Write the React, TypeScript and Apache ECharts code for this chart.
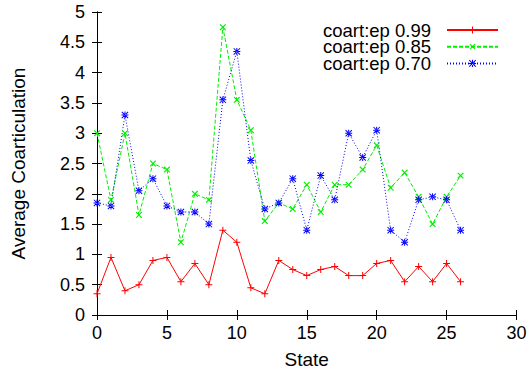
import React, { useEffect, useRef } from "react";
import * as echarts from "echarts";

const states = [0, 1, 2, 3, 4, 5, 6, 7, 8, 9, 10, 11, 12, 13, 14, 15, 16, 17, 18, 19, 20, 21, 22, 23, 24, 25, 26];
const ep099 = [0.35, 0.95, 0.4, 0.5, 0.9, 0.95, 0.55, 0.85, 0.5, 1.4, 1.2, 0.45, 0.35, 0.9, 0.75, 0.65, 0.75, 0.8, 0.65, 0.65, 0.85, 0.9, 0.55, 0.8, 0.55, 0.85, 0.55];
const ep085 = [3.0, 1.9, 3.0, 1.65, 2.5, 2.4, 1.2, 2.0, 1.9, 4.75, 3.55, 3.05, 1.55, 1.85, 1.75, 2.15, 1.7, 2.15, 2.15, 2.4, 2.8, 2.1, 2.35, 1.95, 1.5, 1.95, 2.3];
const ep070 = [1.85, 1.8, 3.3, 2.05, 2.25, 1.8, 1.7, 1.7, 1.5, 3.55, 4.35, 2.55, 1.75, 1.85, 2.25, 1.4, 2.3, 1.9, 3.0, 2.6, 3.05, 1.4, 1.2, 1.9, 1.95, 1.9, 1.4];
const seriesNames = ["coart:ep 0.99", "coart:ep 0.85", "coart:ep 0.70"];

const FONT = "Liberation Sans, Arial, sans-serif";
const PLUS = "path://M3,0H4V3H7V4H4V7H3V4H0V3H3Z";
const STAR = "path://M3,0H4V3H7V4H4V7H3V4H0V3H3Z M0,0.7L0.7,0L7,6.3L6.3,7Z M7,0.7L6.3,0L0,6.3L0.7,7Z";

export default function App() {
  const ref = useRef<HTMLDivElement>(null);
  useEffect(() => {
    if (!ref.current) return;
    const chart = echarts.init(ref.current, null, { renderer: "svg" });
    const pairs = (vals: number[]) => states.map((s, i) => [s, vals[i]]);
    const axisCommon = {
      axisLine: { show: true, lineStyle: { color: "#000", width: 1 } },
      axisTick: { show: true, inside: true, length: 5, lineStyle: { color: "#000" } },
      splitLine: { show: false },
    };
    chart.setOption({
      animation: false,
      backgroundColor: "#fff",
      textStyle: { fontFamily: FONT },
      grid: { left: 97, right: 13.5, top: 12, bottom: 59, containLabel: false },
      legend: {
        orient: "vertical",
        align: "right",
        right: 26,
        top: 15.5,
        itemWidth: 51,
        itemHeight: 9,
        itemGap: -2.3,
        textStyle: { fontFamily: FONT, fontSize: 18.5, lineHeight: 14, color: "#000", padding: [0, 11, 0, 0] },
        data: seriesNames,
      },
      xAxis: [
        {
          type: "value", min: 0, max: 30, interval: 5, position: "bottom",
          name: "State", nameLocation: "middle", nameGap: 35,
          nameTextStyle: { fontFamily: FONT, fontSize: 19, color: "#000" },
          axisLabel: { fontFamily: FONT, fontSize: 18, color: "#000", margin: 9 },
          ...axisCommon,
        },
        {
          type: "value", min: 0, max: 30, interval: 5, position: "top",
          axisLabel: { show: false }, ...axisCommon,
        },
      ],
      yAxis: [
        {
          type: "value", min: 0, max: 5, interval: 0.5, position: "left",
          name: "Average Coarticulation", nameLocation: "middle", nameGap: 69,
          nameTextStyle: { fontFamily: FONT, fontSize: 19, color: "#000" },
          axisLabel: { fontFamily: FONT, fontSize: 18, color: "#000", margin: 12 },
          ...axisCommon,
        },
        {
          type: "value", min: 0, max: 5, interval: 0.5, position: "right",
          axisLabel: { show: false }, ...axisCommon,
        },
      ],
      series: [
        {
          name: seriesNames[0], type: "line", data: pairs(ep099),
          symbol: PLUS, symbolSize: 7,
          itemStyle: { color: "#ff0000" },
          lineStyle: { color: "#ff0000", width: 1 },
        },
        {
          name: seriesNames[1], type: "line", data: pairs(ep085),
          symbol: PLUS, symbolSize: 8, symbolRotate: 45,
          itemStyle: { color: "#00ee00" },
          lineStyle: { color: "#00ee00", width: 1, type: [4, 2] },
        },
        {
          name: seriesNames[2], type: "line", data: pairs(ep070),
          symbol: STAR, symbolSize: 7,
          itemStyle: { color: "#0000ff" },
          lineStyle: { color: "#0000ff", width: 1, type: [1, 2] },
        },
      ],
    });
    return () => chart.dispose();
  }, []);
  return <div ref={ref} style={{ width: 530, height: 374, position: "absolute", left: 0, top: 0 }} />;
}
